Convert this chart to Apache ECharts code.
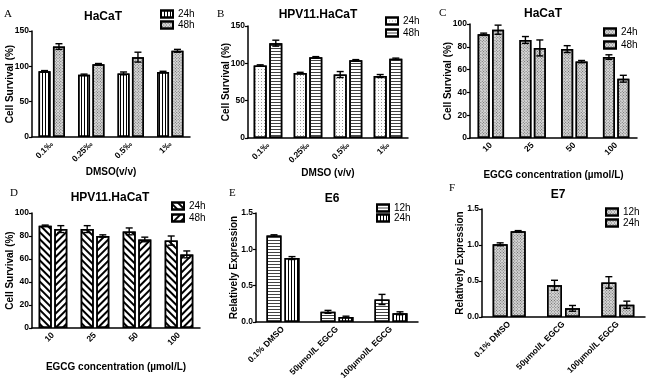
<!DOCTYPE html>
<html>
<head>
<meta charset="utf-8">
<script src="https://cdn.jsdelivr.net/npm/echarts@6/dist/echarts.min.js"></script>
<style>
  html, body { margin: 0; padding: 0; background: #fff; }
  #chart { width: 650px; height: 384px; }
</style>
</head>
<body>
<div id="chart"></div>
<script>
// categories
var dmsoCats = ['0.1‰', '0.25‰', '0.5‰', '1‰'];
var egcgCats = ['10', '25', '50', '100'];
var exprCats = ['0.1% DMSO', '50µmol/L EGCG', '100µmol/L EGCG'];

// A - HaCaT, DMSO
var aVal24 = [93, 88, 90, 92];
var aErr24 = [1, 1, 2, 1];
var aVal48 = [128, 103, 113, 122];
var aErr48 = [4, 1, 7, 2];
// B - HPV11.HaCaT, DMSO
var bVal24 = [97, 87, 85, 83];
var bErr24 = [1, 1, 4, 2];
var bVal48 = [127, 108, 104, 106];
var bErr48 = [4, 1, 1, 1];
// C - HaCaT, EGCG
var cVal24 = [91, 86, 78, 71];
var cErr24 = [1, 3, 3, 2];
var cVal48 = [95, 79, 67, 52];
var cErr48 = [4, 7, 1, 3];
// D - HPV11.HaCaT, EGCG
var dVal24 = [89, 86, 84, 76];
var dErr24 = [0.5, 3, 3, 4];
var dVal48 = [86, 80, 77, 64];
var dErr48 = [3, 1, 2, 3];
// E - E6 expression
var eVal12 = [1.19, 0.14, 0.31];
var eErr12 = [0.01, 0.02, 0.07];
var eVal24 = [0.88, 0.07, 0.12];
var eErr24 = [0.02, 0.01, 0.02];
// F - E7 expression
var fVal12 = [1.01, 0.44, 0.48];
var fErr12 = [0.02, 0.07, 0.08];
var fVal24 = [1.19, 0.12, 0.17];
var fErr24 = [0.01, 0.04, 0.05];

// y tick settings
var survTicks150 = { max: 150, interval: 50 };
var survTicks100 = { max: 100, interval: 20 };
var exprTicks = { max: 1.5, interval: 0.5 };

var SANS = '"Liberation Sans", Arial, sans-serif';

// fill patterns
var pat = {
  vStripe: { color: '#fff', decal: { symbol: 'rect', symbolSize: 1, dashArrayX: [1, 2], dashArrayY: [1, 0], color: '#000' } },
  hStripe: { color: '#fff', decal: { symbol: 'rect', symbolSize: 1, dashArrayX: [1, 0], dashArrayY: [1, 2], color: '#444' } },
  hatch: { color: '#d8d8d8', decal: { symbol: 'rect', symbolSize: 1, dashArrayX: [1, 1], dashArrayY: [1, 1], rotation: Math.PI / 4, color: '#666' } },
  dots: { color: '#fff', decal: { symbol: 'rect', symbolSize: 1, dashArrayX: [1, 2], dashArrayY: [1, 2], color: '#999' } },
  back: { color: '#fff', decal: { symbol: 'rect', symbolSize: 1, dashArrayX: [1, 0], dashArrayY: [1.5, 3], rotation: Math.PI / 4, color: '#000' } },
  fwd: { color: '#fff', decal: { symbol: 'rect', symbolSize: 1, dashArrayX: [1, 0], dashArrayY: [1.5, 3], rotation: -Math.PI / 4, color: '#000' } }
};

var panels = [
  { key: 'A', title: 'HaCaT', titleX: 103, titleY: 11, letterX: 4, letterY: 9,
    grid: { left: 32, top: 31, width: 158, height: 106 }, cats: dmsoCats, ticks: survTicks150,
    yName: 'Cell Survival (%)', xName: 'DMSO(v/v)', xGap: 30, barW: 12,
    legend: { left: 160, top: 9, gap: 1 },
    s: [{ n: '24h', v: aVal24, e: aErr24, p: pat.vStripe }, { n: '48h', v: aVal48, e: aErr48, p: pat.hatch }] },
  { key: 'B', title: 'HPV11.HaCaT', titleX: 318, titleY: 9, letterX: 217, letterY: 9,
    grid: { left: 248, top: 26, width: 160, height: 112 }, cats: dmsoCats, ticks: survTicks150,
    yName: 'Cell Survival (%)', xName: 'DMSO (v/v)', xGap: 29, barW: 13,
    legend: { left: 385, top: 16, gap: 2 },
    s: [{ n: '24h', v: bVal24, e: bErr24, p: pat.dots }, { n: '48h', v: bVal48, e: bErr48, p: pat.hStripe }] },
  { key: 'C', title: 'HaCaT', titleX: 543, titleY: 8, letterX: 439, letterY: 8,
    grid: { left: 470, top: 24, width: 167, height: 114 }, cats: egcgCats, ticks: survTicks100,
    yName: 'Cell Survival (%)', xName: 'EGCG concentration (µmol/L)', xGap: 32, barW: 12,
    legend: { left: 603, top: 27, gap: 3 },
    s: [{ n: '24h', v: cVal24, e: cErr24, p: pat.hatch }, { n: '48h', v: cVal48, e: cErr48, p: pat.hatch }] },
  { key: 'D', title: 'HPV11.HaCaT', titleX: 110, titleY: 192, letterX: 10, letterY: 188,
    grid: { left: 32, top: 213, width: 168, height: 115 }, cats: egcgCats, ticks: survTicks100,
    yName: 'Cell Survival (%)', xName: 'EGCG concentration (µmol/L)', xGap: 34, barW: 13,
    legend: { left: 171, top: 201, gap: 2 },
    s: [{ n: '24h', v: dVal24, e: dErr24, p: pat.back }, { n: '48h', v: dVal48, e: dErr48, p: pat.fwd }] },
  { key: 'E', title: 'E6', titleX: 332, titleY: 193, letterX: 229, letterY: 188,
    grid: { left: 256, top: 213, width: 162, height: 109 }, cats: exprCats, ticks: exprTicks,
    yName: 'Relatively Expression', xName: '', xGap: 30, barW: 15,
    legend: { left: 376, top: 203, gap: 0 },
    s: [{ n: '12h', v: eVal12, e: eErr12, p: pat.hStripe }, { n: '24h', v: eVal24, e: eErr24, p: pat.vStripe }] },
  { key: 'F', title: 'E7', titleX: 558, titleY: 189, letterX: 449, letterY: 183,
    grid: { left: 482, top: 209, width: 163, height: 108 }, cats: exprCats, ticks: exprTicks,
    yName: 'Relatively Expression', xName: '', xGap: 30, barW: 15,
    legend: { left: 605, top: 207, gap: 1 },
    s: [{ n: '12h', v: fVal12, e: fErr12, p: pat.hatch }, { n: '24h', v: fVal24, e: fErr24, p: pat.hatch }] }
];

/**
 * error bar drawn at the bar centre (offset in px from category centre)
 */
function errRender(offset) {
  return function (params, api) {
    var i = api.value(0);
    var hi = api.coord([i, api.value(1) + api.value(2)]);
    var lo = api.coord([i, api.value(1) - api.value(2)]);
    var x = hi[0] + offset;
    var cap = 3.5;
    var st = { stroke: '#000', lineWidth: 1.4, fill: null };
    return {
      type: 'group',
      children: [
        { type: 'line', shape: { x1: x, y1: lo[1], x2: x, y2: hi[1] }, style: st },
        { type: 'line', shape: { x1: x - cap, y1: hi[1], x2: x + cap, y2: hi[1] }, style: st },
        { type: 'line', shape: { x1: x - cap, y1: lo[1], x2: x + cap, y2: lo[1] }, style: st }
      ]
    };
  };
}

var option = {
  animation: false,
  backgroundColor: '#fff',
  title: [],
  legend: [],
  grid: [],
  xAxis: [],
  yAxis: [],
  series: [],
  graphic: []
};

panels.forEach(function (p, k) {
  option.title.push({
    text: p.title, left: p.titleX, top: p.titleY, textAlign: 'center', padding: 0,
    textStyle: { fontFamily: SANS, fontSize: 12, fontWeight: 'bold', color: '#000' }
  });
  option.title.push({
    text: p.key, left: p.letterX, top: p.letterY, padding: 0,
    textStyle: { fontFamily: '"Liberation Serif", "Times New Roman", serif', fontSize: 11, fontWeight: 'normal', color: '#000' }
  });
  option.grid.push(p.grid);

  // y axis title, placed by hand so it sits close to the tick labels
  option.graphic.push({
    type: 'text', x: p.grid.left - 22, y: p.grid.top + p.grid.height / 2, rotation: Math.PI / 2,
    style: { text: p.yName, fontFamily: SANS, fontSize: 10, fontWeight: 'bold', fill: '#000', align: 'center', verticalAlign: 'middle' }
  });

  option.xAxis.push({
    type: 'category', gridIndex: k, data: p.cats,
    name: p.xName, nameLocation: 'middle', nameGap: p.xGap,
    nameTextStyle: { fontFamily: SANS, fontSize: 10, fontWeight: 'bold', color: '#000' },
    axisLine: { lineStyle: { color: '#000', width: 1.5 } },
    axisTick: { alignWithLabel: true, length: 3, lineStyle: { color: '#000', width: 1.2 } },
    axisLabel: { rotate: 45, margin: 6, interval: 0, fontFamily: SANS, fontSize: 8.5, fontWeight: 'bold', color: '#000' },
    splitLine: { show: false }
  });

  var isExpr = p.ticks.max < 10;
  option.yAxis.push({
    type: 'value', gridIndex: k, min: 0, max: p.ticks.max, interval: p.ticks.interval,
    axisLine: { show: true, lineStyle: { color: '#000', width: 1.5 } },
    axisTick: { show: true, length: 3, lineStyle: { color: '#000', width: 1.2 } },
    axisLabel: {
      margin: 3, fontFamily: SANS, fontSize: 8.5, fontWeight: 'bold', color: '#000',
      formatter: function (v) { return isExpr ? v.toFixed(1) : String(v); }
    },
    splitLine: { show: false }
  });

  var names = [];
  var off = p.barW * 0.6;
  p.s.forEach(function (s, j) {
    var nm = p.key + '-' + s.n;
    names.push(nm);
    option.series.push({
      type: 'bar', name: nm, xAxisIndex: k, yAxisIndex: k,
      data: s.v, barWidth: p.barW, barGap: '20%',
      itemStyle: { color: s.p.color, decal: s.p.decal, borderColor: '#000', borderWidth: 1.5 }
    });
    option.series.push({
      type: 'custom', name: nm + '-err', xAxisIndex: k, yAxisIndex: k, z: 5,
      renderItem: errRender(j === 0 ? -off : off),
      encode: { x: 0, y: 1 },
      data: s.v.map(function (v, i) { return [i, v, s.e[i]]; })
    });
  });

  option.legend.push({
    data: names, orient: 'vertical', left: p.legend.left, top: p.legend.top,
    itemGap: p.legend.gap, itemWidth: 12, itemHeight: 7, padding: 0, icon: 'rect',
    selectedMode: false,
    formatter: function (n) { return n.split('-')[1]; },
    textStyle: { fontFamily: SANS, fontSize: 10, color: '#000', padding: [0, 0, 0, 0] }
  });
});

var chart = echarts.init(document.getElementById('chart'), null, { renderer: 'canvas' });
chart.setOption(option);
</script>
</body>
</html>
